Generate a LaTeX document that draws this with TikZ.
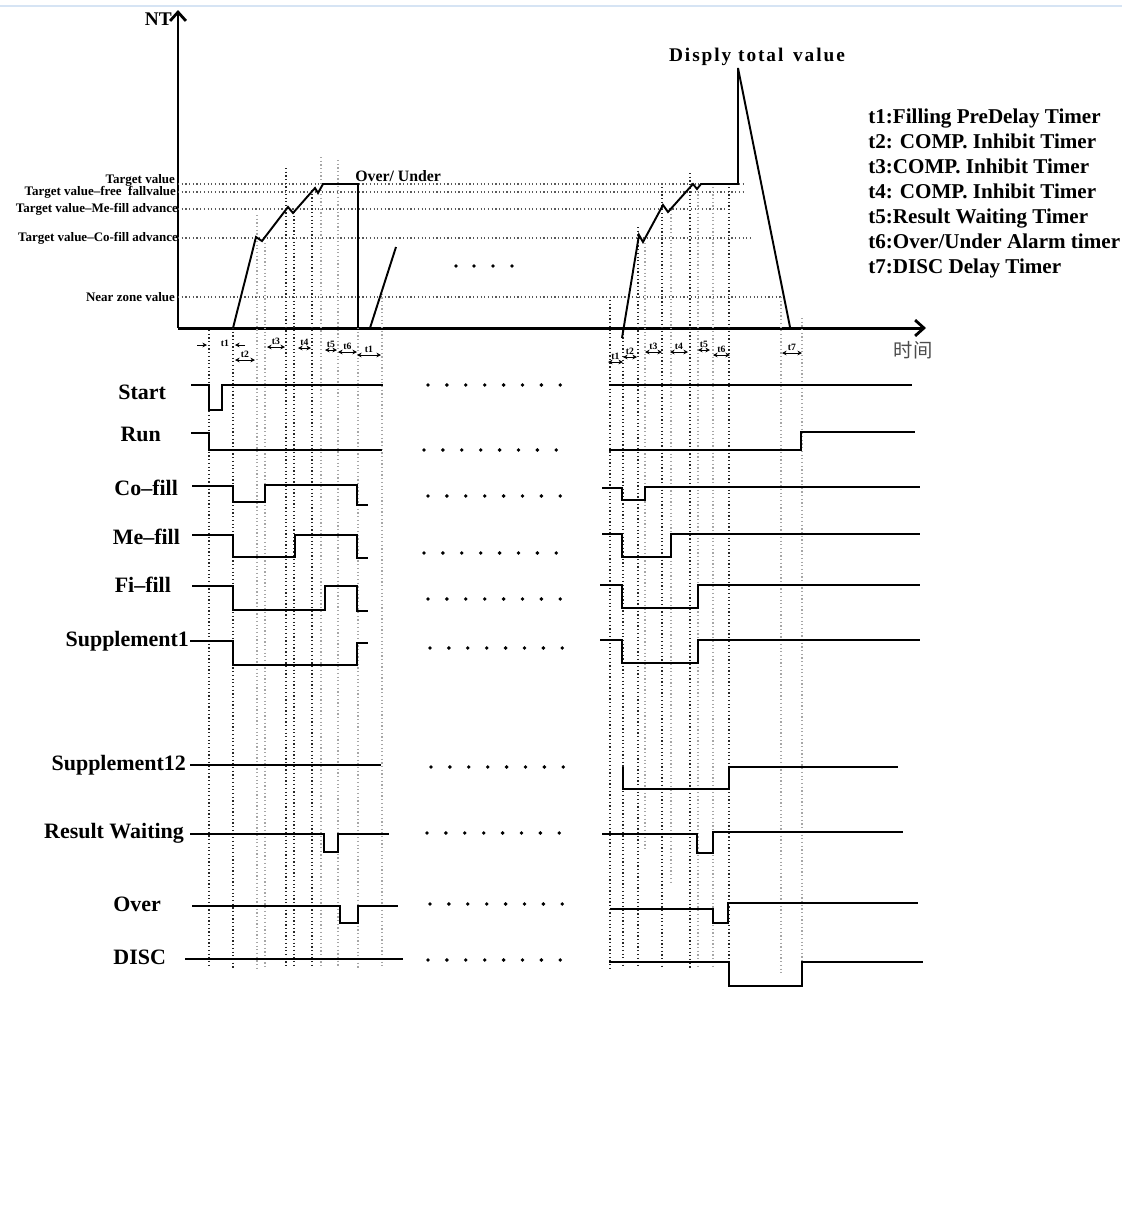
\documentclass[tikz,border=0pt]{standalone}
\usepackage{fontspec}
\setmainfont{Liberation Serif}
\newfontfamily\cjkfont{Noto Sans CJK SC}
\newfontfamily\widefont[LetterSpace=10]{Liberation Serif}
\usetikzlibrary{arrows.meta}
\definecolor{edgeblue}{RGB}{214,228,244}

\begin{document}
\begin{tikzpicture}[
  x=0.02cm, y=-0.02cm,
  axis/.style={line width=1.7pt, -{Straight Barb[length=5pt,width=9pt,line width=1.6pt]}},
  wave/.style={line width=1.1pt, line join=miter},
  guide/.style={line width=0.6pt, dash pattern=on 0.7pt off 1.4pt, black!85},
  guidegray/.style={line width=0.6pt, dash pattern=on 0.7pt off 1.4pt, black!35},
  level/.style={line width=0.6pt, dash pattern=on 0.7pt off 1.4pt, black!65},
  sig/.style={font=\fontsize{12.5}{14}\selectfont\bfseries, anchor=east, inner sep=1pt},
  lvl/.style={font=\fontsize{7.4}{8}\selectfont\bfseries, anchor=east, inner sep=1pt},
  tlab/.style={font=\fontsize{5.5}{6}\selectfont\bfseries, inner sep=0pt},
  tarr/.style={{Stealth[length=2.6pt,width=2.6pt]}-{Stealth[length=2.6pt,width=2.6pt]}, line width=0.5pt},
  legend/.style={font=\fontsize{12}{14}\selectfont\bfseries, anchor=base west, inner sep=0pt}
]
\useasboundingbox[fill=white] (0,0) rectangle (1136,1215);
\draw[edgeblue, line width=0.8pt] (0,6) -- (1122,6);

% axes
\coordinate (origin) at (178,328);
\coordinate (ytop) at (178,10);
\coordinate (xend) at (926,328);
\draw[axis] (origin) -- (ytop);
\draw[axis] (origin) -- (xend);
\node[font=\fontsize{11}{12}\selectfont\bfseries, anchor=east, inner sep=0pt] (nt) at (172,19) {NT};
\node[font=\fontsize{11}{12}\selectfont\cjkfont, text=black!70, inner sep=0pt] (time) at (913,350) {时间};

% levels
\foreach \yy/\xe in {184/745, 192/745, 209/727, 238/750, 297/783}
  \draw[level] (178,\yy) -- (\xe,\yy);
\node[lvl] (tv) at (177,180) {Target value};
\node[lvl] (tvff) at (178,192) {Target value--free\enspace fallvalue};
\node[lvl] (tvme) at (180,209) {Target value--Me-fill advance};
\node[lvl] (tvco) at (180,238) {Target value--Co-fill advance};
\node[lvl] (near) at (177,297) {Near zone value};
\node[font=\fontsize{9}{10}\selectfont\bfseries, anchor=west, inner sep=0pt] (ou) at (355,176) {Over/ Under};
\node[font=\fontsize{11}{12}\selectfont\widefont\bfseries, inner sep=0pt] (total) at (757,57) {Disply total\enspace value};

% guides
\foreach \xx/\ya/\yb in {209/330/968, 233/328/968, 286/168/968, 294/212/968, 312/190/968,
    610/300/968, 623/330/968, 638/227/968, 662/187/968, 690/173/968, 729/187/987}
  \draw[guide] (\xx,\ya) -- (\xx,\yb);
\foreach \xx/\ya/\yb in {257/215/968, 265/243/968, 321/157/968, 338/160/968, 358/328/968, 382/290/968,
    645/243/850, 671/210/882, 698/187/968, 713/187/968, 781/297/975, 802/318/987}
  \draw[guidegray] (\xx,\ya) -- (\xx,\yb);

% weight curves
\draw[wave] (233,328) -- (256,237) -- (262,241) -- (288,207) -- (293,213) -- (315,188) -- (318,193)
  -- (323,184) -- (358,184) -- (358,328);
\draw[wave] (370,328) -- (396,247);
\draw[wave] (622,338) -- (639,235) -- (643,242) -- (663,205) -- (668,212) -- (693,184) -- (697,189)
  -- (701,184) -- (738,184) -- (738,68) -- (790,327);
\foreach \xx in {456,474,493,512}
  \fill (\xx,266) circle (1.1pt);

% timers
\draw[-{Stealth[length=2.6pt,width=2.6pt]}, line width=0.5pt] (197,345) -- (207,345);
\draw[-{Stealth[length=2.6pt,width=2.6pt]}, line width=0.5pt] (245,345) -- (235,345);
\node[tlab] (ta1) at (225,343) {t1};
\foreach \xa/\xb/\ya/\lab in {235/255/360/t2, 267/285/347/t3, 298/311/348/t4, 325/337/350/t5,
    338/357/352/t6, 357/381/355/t1, 608/623/362/t1, 623/637/357/t2, 645/662/352/t3,
    670/688/352/t4, 698/710/350/t5, 713/730/355/t6, 782/802/353/t7}
{
  \draw[tarr] (\xa,\ya) -- (\xb,\ya);
  \node[tlab] at ({(\xa+\xb)/2},\ya-6) {\lab};
}

% signal names
\node[sig] (start) at (168,392) {Start};
\node[sig] (run) at (163,434) {Run};
\node[sig] (cofill) at (180,488) {Co--fill};
\node[sig] (mefill) at (182,537) {Me--fill};
\node[sig] (fifill) at (173,585) {Fi--fill};
\node[sig] (supp1) at (191,641) {Supplement1};
\node[sig] (supp12) at (188,765) {Supplement12};
\node[sig] (result) at (186,833) {Result Waiting};
\node[sig] (over) at (163,904) {Over};
\node[sig] (disc) at (168,957) {DISC};

% first cycle
\draw[wave] (191,385) -- (209,385) -- (209,410) -- (222,410) -- (222,385) -- (383,385);
\draw[wave] (191,433) -- (209,433) -- (209,450) -- (382,450);
\draw[wave] (192,486) -- (233,486) -- (233,502) -- (265,502) -- (265,485) -- (357,485) -- (357,505) -- (368,505);
\draw[wave] (192,535) -- (233,535) -- (233,557) -- (295,557) -- (295,535) -- (357,535) -- (357,558) -- (368,558);
\draw[wave] (192,586) -- (233,586) -- (233,610) -- (325,610) -- (325,586) -- (357,586) -- (357,611) -- (368,611);
\draw[wave] (190,641) -- (233,641) -- (233,665) -- (357,665) -- (357,643) -- (368,643);
\draw[wave] (190,765) -- (381,765);
\draw[wave] (190,834) -- (324,834) -- (324,852) -- (338,852) -- (338,834) -- (389,834);
\draw[wave] (192,906) -- (340,906) -- (340,923) -- (358,923) -- (358,906) -- (398,906);
\draw[wave] (185,959) -- (403,959);

% gap
\foreach \xs/\yy in {428/385, 424/450, 428/496, 424/553, 428/599, 430/648, 431/767, 427/833, 430/904, 428/960}
  \foreach \k in {0,...,7}
    \fill (\xs+\k*18.9,\yy) circle (1.1pt);

% second cycle
\draw[wave] (609,385) -- (912,385);
\draw[wave] (609,450) -- (801,450) -- (801,432) -- (915,432);
\draw[wave] (602,488) -- (622,488) -- (622,500) -- (645,500) -- (645,487) -- (920,487);
\draw[wave] (602,534) -- (622,534) -- (622,557) -- (671,557) -- (671,534) -- (920,534);
\draw[wave] (600,585) -- (622,585) -- (622,608) -- (698,608) -- (698,585) -- (920,585);
\draw[wave] (600,640) -- (622,640) -- (622,663) -- (698,663) -- (698,640) -- (920,640);
\draw[wave] (623,767) -- (623,789) -- (729,789) -- (729,767) -- (898,767);
\draw[wave] (602,834) -- (697,834) -- (697,853) -- (713,853) -- (713,832) -- (903,832);
\draw[wave] (610,909) -- (713,909) -- (713,923) -- (728,923) -- (728,903) -- (918,903);
\draw[wave] (609,962) -- (729,962) -- (729,986) -- (802,986) -- (802,962) -- (923,962);

% legend
\foreach \i/\txt/\yy in {1/{t1:Filling PreDelay Timer}/123, 2/{t2: COMP. Inhibit Timer}/148,
    3/{t3:COMP. Inhibit Timer}/173, 4/{t4: COMP. Inhibit Timer}/198, 5/{t5:Result Waiting Timer}/223,
    6/{t6:Over/Under Alarm timer}/248, 7/{t7:DISC Delay Timer}/273}
  \node[legend] (leg\i) at (868,\yy) {\txt};
\end{tikzpicture}
\end{document}
